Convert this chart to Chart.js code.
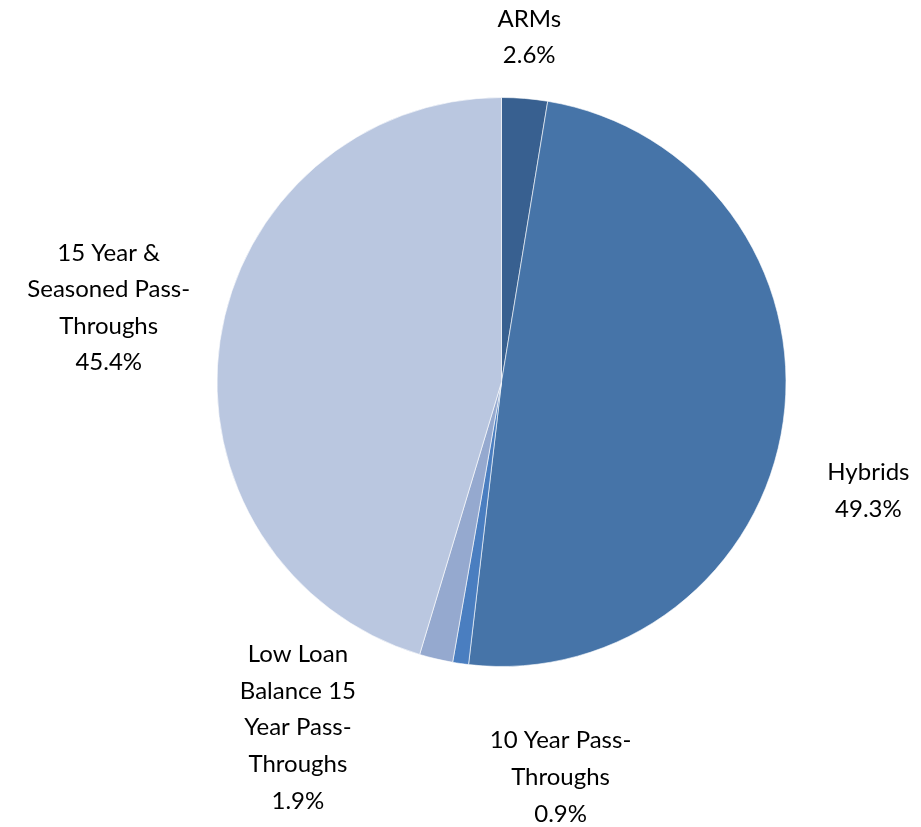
<!DOCTYPE html>
<html>
<head>
<meta charset="utf-8">
<script src="https://cdn.jsdelivr.net/npm/chart.js@4"></script>
<style>
  html, body { margin: 0; padding: 0; background: #fff; }
  #wrap { width: 921px; height: 827px; }
</style>
</head>
<body>
<div id="wrap"><canvas id="pieChart"></canvas></div>
<script>
    var labels = [
        "ARMs",
        "Hybrids",
        "10 Year Pass-Throughs",
        "Low Loan Balance 15 Year Pass-Throughs",
        "15 Year & Seasoned Pass-Throughs"
    ];
    var shares = [2.6, 49.3, 0.9, 1.9, 45.4];
    var labelLines = [
        ["ARMs"],
        ["Hybrids"],
        ["10 Year Pass-", "Throughs"],
        ["Low Loan", "Balance 15", "Year Pass-", "Throughs"],
        ["15 Year &", "Seasoned Pass-", "Throughs"]
    ];
    var colors = ["#386090", "#4674A8", "#4A7EC0", "#95A9CF", "#BAC7E0"];

    // where each label sits: angle from 12 o'clock (deg) and distance in radii
    var labelPlace = [
        { angle: 4.6, dist: 1.215 },
        { angle: 106.5, dist: 1.345 },
        { angle: 171.5, dist: 1.405 },
        { angle: 210.5, dist: 1.41 },
        { angle: 280.7, dist: 1.405 }
    ];

    var outsideLabels = {
        id: "outsideLabels",
        afterDraw: function(chart) {
            var ctx = chart.ctx;
            var arc = chart.getDatasetMeta(0).data[0];
            var cx = arc.x, cy = arc.y, r = arc.outerRadius;
            var lh = 36.6;
            ctx.save();
            ctx.font = "24px Lato";
            ctx.fillStyle = "#000";
            ctx.textAlign = "center";
            ctx.textBaseline = "middle";
            labelLines.forEach(function(lines, i) {
                var all = lines.concat([shares[i].toFixed(1) + "%"]);
                var a = labelPlace[i].angle * Math.PI / 180;
                var x = cx + Math.sin(a) * r * labelPlace[i].dist;
                var y = cy - Math.cos(a) * r * labelPlace[i].dist;
                var top = y - (all.length - 1) * lh / 2;
                all.forEach(function(t, j) {
                    ctx.fillText(t, x, top + j * lh);
                });
            });
            ctx.restore();
        }
    };

    window.onload = function() {
        new Chart("pieChart", {
            type: "pie",
            data: {
                labels: labels,
                datasets: [{
                    data: shares,
                    backgroundColor: colors,
                    borderColor: "rgba(255,255,255,0.6)",
                    borderWidth: 1
                }]
            },
            options: {
                responsive: true,
                maintainAspectRatio: false,
                animation: false,
                layout: {
                    padding: { top: 97, bottom: 160, left: 216, right: 134 }
                },
                plugins: {
                    legend: { display: false },
                    tooltip: { enabled: false }
                }
            },
            plugins: [outsideLabels]
        });
    };
</script>
</body>
</html>
